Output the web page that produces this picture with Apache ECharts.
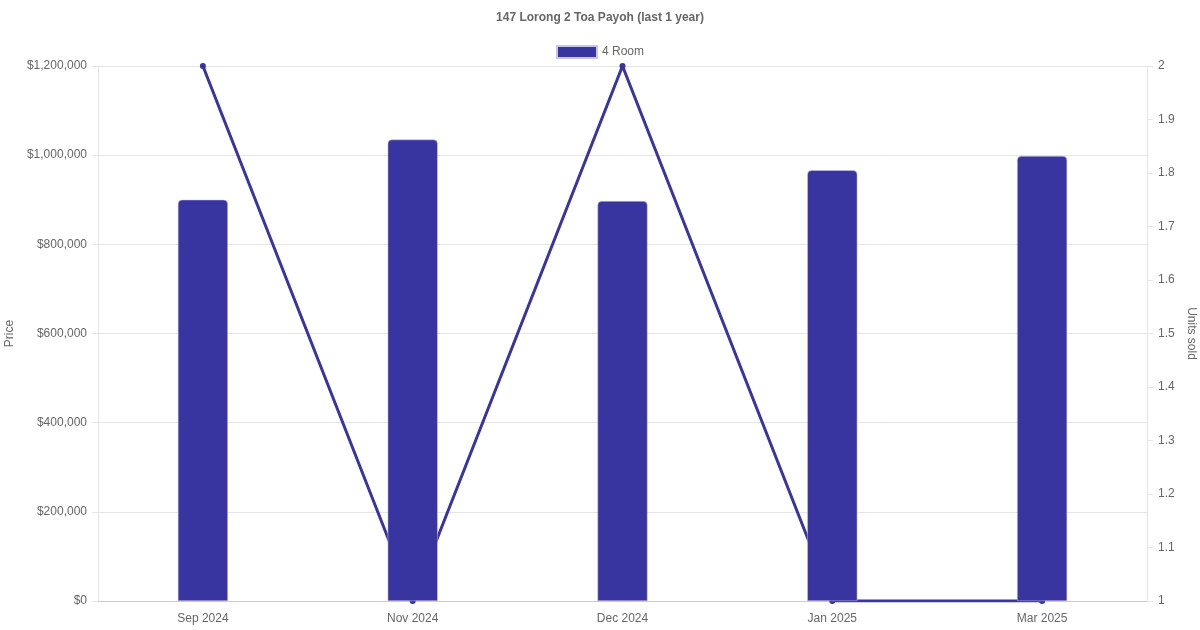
<!DOCTYPE html>
<html>
<head>
<meta charset="utf-8">
<script src="https://cdn.jsdelivr.net/npm/echarts@6/dist/echarts.min.js"></script>
<style>
  html, body { margin: 0; padding: 0; background: #fff; }
  #chart { width: 1200px; height: 630px; }
</style>
</head>
<body>
<div id="chart"></div>
<script>
const months = ['Sep 2024', 'Nov 2024', 'Dec 2024', 'Jan 2025', 'Mar 2025'];
const prices = [900000, 1035000, 897000, 966000, 998000];
const unitsSold = [2, 1, 2, 1, 1];

const colour = '#3834a0';
const textColour = '#666';
const gridColour = '#e5e5e5';
const font = '"Liberation Sans", Arial, sans-serif';

const money = (v) => '$' + v.toLocaleString('en-US');

const chart = echarts.init(document.getElementById('chart'), null, { renderer: 'canvas' });
chart.setOption({
  animation: false,
  textStyle: { fontFamily: font },
  title: {
    text: '147 Lorong 2 Toa Payoh (last 1 year)',
    left: 'center',
    top: 7,
    textStyle: { fontSize: 12, fontWeight: 'bold', color: textColour, fontFamily: font }
  },
  legend: {
    data: ['4 Room'],
    top: 40,
    left: 'center',
    icon: 'rect',
    itemWidth: 40,
    itemHeight: 12,
    itemGap: 6,
    textStyle: { fontSize: 12, color: textColour, fontFamily: font }
  },
  grid: { left: 98, right: 53, top: 66, bottom: 29, containLabel: false, outerBoundsMode: 'none' },
  xAxis: {
    type: 'category',
    data: months,
    boundaryGap: true,
    axisLine: { lineStyle: { color: '#ccc' } },
    axisTick: { show: false },
    axisLabel: { color: textColour, fontSize: 12, margin: 12, fontFamily: font }
  },
  yAxis: [
    {
      type: 'value',
      name: 'Price',
      nameLocation: 'middle',
      nameGap: 80,
      nameTextStyle: { color: textColour, fontSize: 12, fontFamily: font },
      min: 0,
      max: 1200000,
      interval: 200000,
      axisLine: { show: true, lineStyle: { color: gridColour } },
      axisTick: { show: true, length: 6, lineStyle: { color: gridColour } },
      axisLabel: { color: textColour, fontSize: 12, formatter: money, margin: 11, fontFamily: font },
      splitLine: { lineStyle: { color: gridColour } }
    },
    {
      type: 'value',
      name: 'Units sold',
      nameLocation: 'middle',
      nameRotate: -90,
      nameGap: 31,
      nameTextStyle: { color: textColour, fontSize: 12, fontFamily: font },
      min: 1,
      max: 2,
      interval: 0.1,
      position: 'right',
      axisLine: { show: true, lineStyle: { color: gridColour } },
      axisTick: { show: true, length: 6, lineStyle: { color: gridColour } },
      axisLabel: {
        color: textColour, fontSize: 12, margin: 11, fontFamily: font,
        formatter: (v) => String(Math.round(v * 10) / 10)
      },
      splitLine: { show: false }
    }
  ],
  series: [
    {
      name: '4 Room',
      type: 'bar',
      yAxisIndex: 0,
      data: prices,
      barWidth: 50,
      z: 3,
      itemStyle: {
        color: colour,
        borderRadius: [4, 4, 0, 0],
        borderColor: '#c8c6e8',
        borderWidth: 0.5
      }
    },
    {
      name: 'Units sold',
      type: 'line',
      yAxisIndex: 1,
      data: unitsSold,
      z: 2,
      symbol: 'circle',
      symbolSize: 6,
      lineStyle: { color: colour, width: 3 },
      itemStyle: { color: colour }
    }
  ]
});
</script>
</body>
</html>
